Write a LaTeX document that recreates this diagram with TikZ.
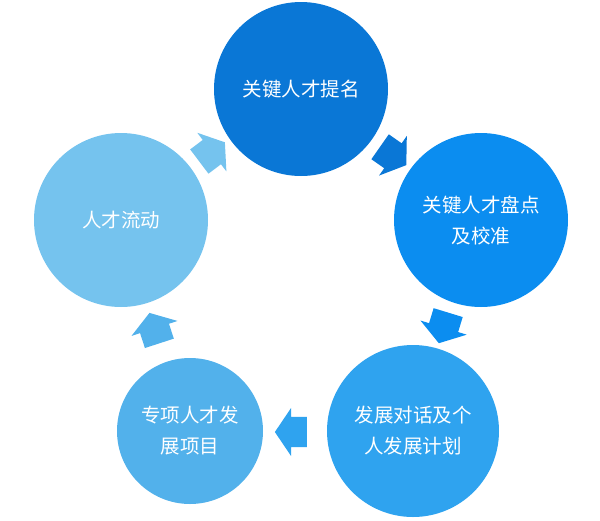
\documentclass[tikz,border=0pt]{standalone}
\usepackage{fontspec}
\newfontfamily\cjk{Noto Sans CJK SC}
\usetikzlibrary{shapes.arrows}
\definecolor{CycBlueA}{HTML}{0A77D6}
\definecolor{CycBlueB}{HTML}{0B8DF0}
\definecolor{CycBlueC}{HTML}{2FA3EF}
\definecolor{CycBlueD}{HTML}{52B1EB}
\definecolor{CycBlueE}{HTML}{75C3EE}

\begin{document}
\begin{tikzpicture}[x=1pt,y=-1pt, every node/.style={font={\cjk\fontsize{19.5}{31}\selectfont},align=center,text=white}]
    \useasboundingbox (0,0) rectangle (600,520);
    \tikzset{stage/.style={circle,inner sep=0pt,minimum size=#1},
      flowarr/.style={single arrow,inner xsep=0pt,inner ysep=15pt,minimum height=32pt,minimum width=48pt,single arrow head extend=9pt,single arrow tip angle=112}}
    \node[stage=174pt,fill=CycBlueA] (timing) at (301,89) {关键人才提名};
    \node[stage=174pt,fill=CycBlueB] (pandian) at (481,220) {关键人才盘点\\及校准};
    \node[stage=172pt,fill=CycBlueC] (duihua) at (413,431) {发展对话及个\\人发展计划};
    \node[stage=146pt,fill=CycBlueD] (xiangmu) at (190,431) {专项人才发\\展项目};
    \node[stage=174pt,fill=CycBlueE] (liudong) at (121,220) {人才流动};
    \node[flowarr,fill=CycBlueA,rotate=-35] (arrA) at (389,153) {};
    \node[flowarr,fill=CycBlueB,rotate=-107] (arrB) at (445,323) {};
    \node[flowarr,fill=CycBlueC,rotate=180] (arrC) at (296,432) {};
    \node[flowarr,fill=CycBlueD,rotate=108] (arrD) at (156,333) {};
    \node[flowarr,fill=CycBlueE,rotate=37] (arrE) at (208,155) {};
  \end{tikzpicture}
\end{document}
